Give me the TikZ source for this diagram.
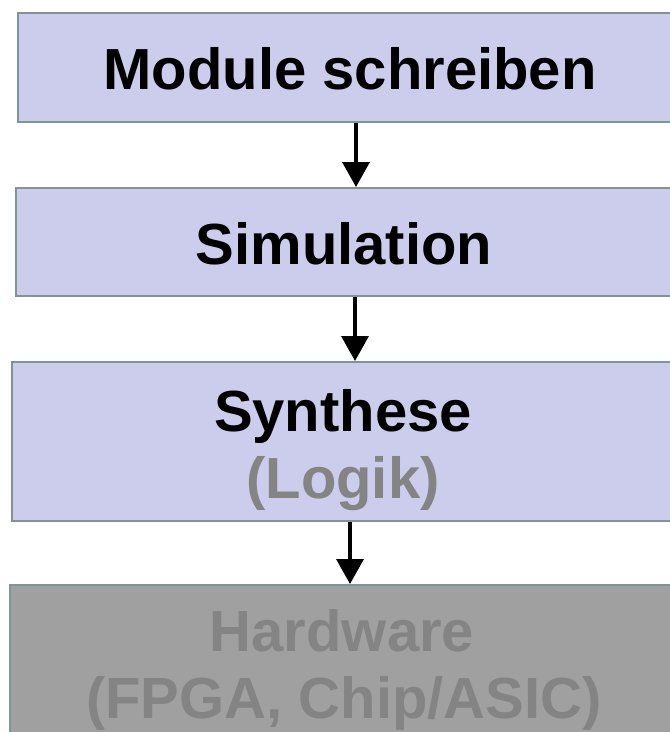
\documentclass[tikz,border=0pt]{standalone}
\usepackage{fontspec}
\setmainfont{Liberation Sans}
\usetikzlibrary{arrows.meta}
\definecolor{stepfill}{RGB}{204,204,236}
\definecolor{stepedge}{RGB}{128,148,152}
\definecolor{hwfill}{RGB}{160,160,160}
\definecolor{softgray}{RGB}{132,132,132}
\tikzset{
  x=1pt, y=-1pt,
  stepbox/.style={draw=stepedge, line width=2pt, fill=stepfill, inner sep=0pt},
  hwbox/.style={stepbox, fill=hwfill},
  label/.style={anchor=base, inner sep=0pt, font=\fontsize{58}{62}\selectfont\bfseries},
  flow/.style={line width=3.5pt, -{Triangle[width=27pt,length=25pt]}}
}
\begin{document}
\begin{tikzpicture}
\useasboundingbox (0,0) rectangle (670,732);
\clip (0,0) rectangle (670,732);
\fill[white] (0,0) rectangle (670,732);
% boxes, running off the right edge
\node[stepbox, minimum width=682pt, minimum height=109pt] (b1) at (359,67.5) {};
\node[stepbox, minimum width=684pt, minimum height=108pt] (b2) at (358,242) {};
\node[stepbox, minimum width=688pt, minimum height=159pt] (b3) at (356,441.5) {};
\node[hwbox, minimum width=690pt, minimum height=180pt] (b4) at (355,675) {};
% texts
\node[label] (t1) at (350,89) {Module schreiben};
\node[label] (t2) at (344,264) {Simulation};
\node[label] (t3) at (343,431) {Synthese};
\node[label, text=softgray] (t3b) at (343,498) {(Logik)};
\node[label, text=softgray] (t4) at (342,651) {Hardware};
\node[label, text=softgray] (t4b) at (344,718) {(FPGA, Chip/ASIC)};
% arrows between the steps
\draw[flow] (b1.south -| 356,0) -- (b2.north -| 356,0);
\draw[flow] (b2.south -| 355,0) -- (b3.north -| 355,0);
\draw[flow] (b3.south -| 350,0) -- (b4.north -| 350,0);
\end{tikzpicture}
\end{document}
